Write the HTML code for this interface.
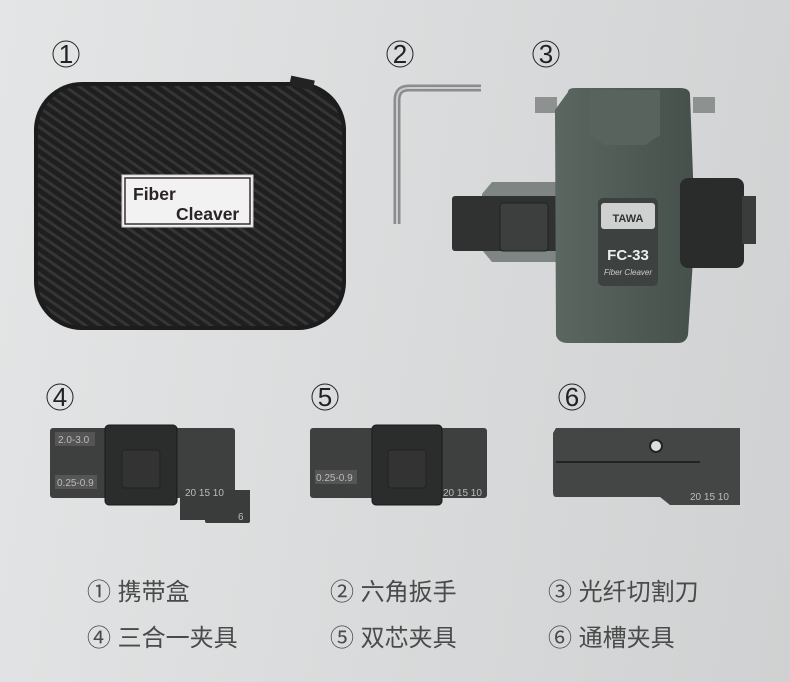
<!DOCTYPE html>
<html><head><meta charset="utf-8"><style>
html,body{margin:0;padding:0}
body{width:790px;height:682px;overflow:hidden;background:linear-gradient(100deg,#e3e5e6 0%,#d8dadb 55%,#cfd1d2 100%)}
svg{display:block}
.n{font-family:"Liberation Sans","Noto Sans CJK SC",sans-serif;fill:#222}
.t{font-family:"Liberation Sans","Noto Sans CJK SC",sans-serif;fill:#4a4a4a;font-size:24px}
.s{font-family:"Liberation Sans",sans-serif;fill:#bbb;font-size:10px}
</style></head><body>
<svg width="790" height="682" viewBox="0 0 790 682">
<defs>
<pattern id="cf" width="8" height="8" patternUnits="userSpaceOnUse" patternTransform="rotate(35)">
<rect width="8" height="8" fill="#1f1f1f"/><rect width="8" height="3" fill="#353535"/>
</pattern>
<linearGradient id="gb" x1="0" y1="0" x2="1" y2="0"><stop offset="0" stop-color="#5b6661"/><stop offset="1" stop-color="#46504b"/></linearGradient>
</defs>
<g class="n" font-size="26">
<circle cx="66" cy="54" r="13" fill="none" stroke="#222" stroke-width="1"/><text x="66" y="63" text-anchor="middle">1</text>
<circle cx="400" cy="54" r="13" fill="none" stroke="#222" stroke-width="1"/><text x="400" y="63" text-anchor="middle">2</text>
<circle cx="546" cy="54" r="13" fill="none" stroke="#222" stroke-width="1"/><text x="546" y="63" text-anchor="middle">3</text>
<circle cx="60" cy="397" r="13" fill="none" stroke="#222" stroke-width="1"/><text x="60" y="406" text-anchor="middle">4</text>
<circle cx="325" cy="397" r="13" fill="none" stroke="#222" stroke-width="1"/><text x="325" y="406" text-anchor="middle">5</text>
<circle cx="572" cy="397" r="13" fill="none" stroke="#222" stroke-width="1"/><text x="572" y="406" text-anchor="middle">6</text>
</g>
<rect x="34" y="82" width="312" height="248" rx="48" fill="#1c1c1c"/>
<rect x="38" y="86" width="304" height="240" rx="45" fill="url(#cf)"/>
<rect x="290" y="78" width="24" height="10" fill="#222" transform="rotate(12 302 83)"/>
<rect x="122" y="175" width="131" height="52" fill="#f2f2f2" stroke="#ccc"/>
<rect x="125" y="178" width="125" height="46" fill="none" stroke="#3a3030" stroke-width="1.5"/>
<text x="133" y="200" font-family="Liberation Sans" font-weight="bold" font-size="17.5" fill="#2a2424">Fiber</text>
<text x="176" y="220" font-family="Liberation Sans" font-weight="bold" font-size="17.5" fill="#2a2424">Cleaver</text>
<path d="M397 224 L397 100 Q397 88 409 88 L481 88" fill="none" stroke="#8a8c8d" stroke-width="7"/>
<path d="M397 224 L397 100 Q397 88 409 88 L481 88" fill="none" stroke="#c9cbcc" stroke-width="2"/>
<rect x="535" y="97" width="22" height="16" fill="#8d9190"/><rect x="693" y="97" width="22" height="16" fill="#8d9190"/>
<path d="M492 182 L560 182 L560 262 L492 262 L482 250 L482 194Z" fill="#7e8582"/>
<rect x="452" y="196" width="110" height="55" rx="3" fill="#2f3231"/>
<rect x="500" y="203" width="48" height="48" rx="3" fill="#3c3f3e" stroke="#222"/>
<path d="M568 92 Q568 88 575 88 L680 88 Q690 88 690 95 L695 230 L688 335 Q686 343 678 343 L568 343 Q558 343 556 335 L555 110Z" fill="url(#gb)"/>
<path d="M590 90 L660 90 L660 135 L645 145 L605 145 L590 135Z" fill="#58635e"/>
<rect x="598" y="198" width="60" height="88" rx="5" fill="#3d4240"/>
<rect x="601" y="203" width="54" height="26" rx="3" fill="#cfd1d0"/>
<text x="628" y="222" text-anchor="middle" font-family="Liberation Sans" font-weight="bold" font-size="11" fill="#333">TAWA</text>
<text x="628" y="260" text-anchor="middle" font-family="Liberation Sans" font-weight="bold" font-size="15" fill="#eee">FC-33</text>
<text x="628" y="275" text-anchor="middle" font-family="Liberation Sans" font-style="italic" font-size="8" fill="#ccc">Fiber Cleaver</text>
<rect x="680" y="178" width="64" height="90" rx="8" fill="#2a2c2b"/>
<rect x="742" y="196" width="14" height="48" fill="#3a3c3b"/>
<rect x="50" y="428" width="185" height="70" rx="3" fill="#3e3f3f"/>
<rect x="180" y="490" width="70" height="30" fill="#3a3b3b"/><rect x="205" y="490" width="45" height="33" rx="2" fill="#3a3b3b"/>
<rect x="55" y="432" width="40" height="14" fill="#555"/><text x="58" y="443" class="s">2.0-3.0</text>
<rect x="55" y="475" width="42" height="14" fill="#555"/><text x="57" y="486" class="s">0.25-0.9</text>
<rect x="105" y="425" width="72" height="80" rx="4" fill="#2b2c2c" stroke="#1a1a1a"/>
<rect x="122" y="450" width="38" height="38" rx="3" fill="#333" stroke="#222"/>
<text x="185" y="496" class="s" font-size="11">20 15 10</text><text x="238" y="520" class="s">6</text>
<rect x="310" y="428" width="177" height="70" rx="3" fill="#3e3f3f"/>
<rect x="315" y="470" width="42" height="14" fill="#555"/><text x="316" y="481" class="s">0.25-0.9</text>
<rect x="372" y="425" width="70" height="80" rx="4" fill="#2b2c2c" stroke="#1a1a1a"/>
<rect x="388" y="450" width="38" height="38" rx="3" fill="#333" stroke="#222"/>
<text x="443" y="496" class="s" font-size="11">20 15 10</text>
<path d="M556 428 L740 428 L740 505 L670 505 L660 497 L556 497 Q553 497 553 492 L553 433Z" fill="#444545"/>
<line x1="556" y1="462" x2="700" y2="462" stroke="#222" stroke-width="2"/>
<circle cx="656" cy="446" r="6" fill="#ddd" stroke="#222" stroke-width="2"/>
<text x="690" y="500" class="s" font-size="11">20 15 10</text>
<text class="t" x="87" y="600">① 携带盒</text>
<text class="t" x="330" y="600">② 六角扳手</text>
<text class="t" x="548" y="600">③ 光纤切割刀</text>
<text class="t" x="87" y="646">④ 三合一夹具</text>
<text class="t" x="330" y="646">⑤ 双芯夹具</text>
<text class="t" x="548" y="646">⑥ 通槽夹具</text>
</svg>
</body></html>
